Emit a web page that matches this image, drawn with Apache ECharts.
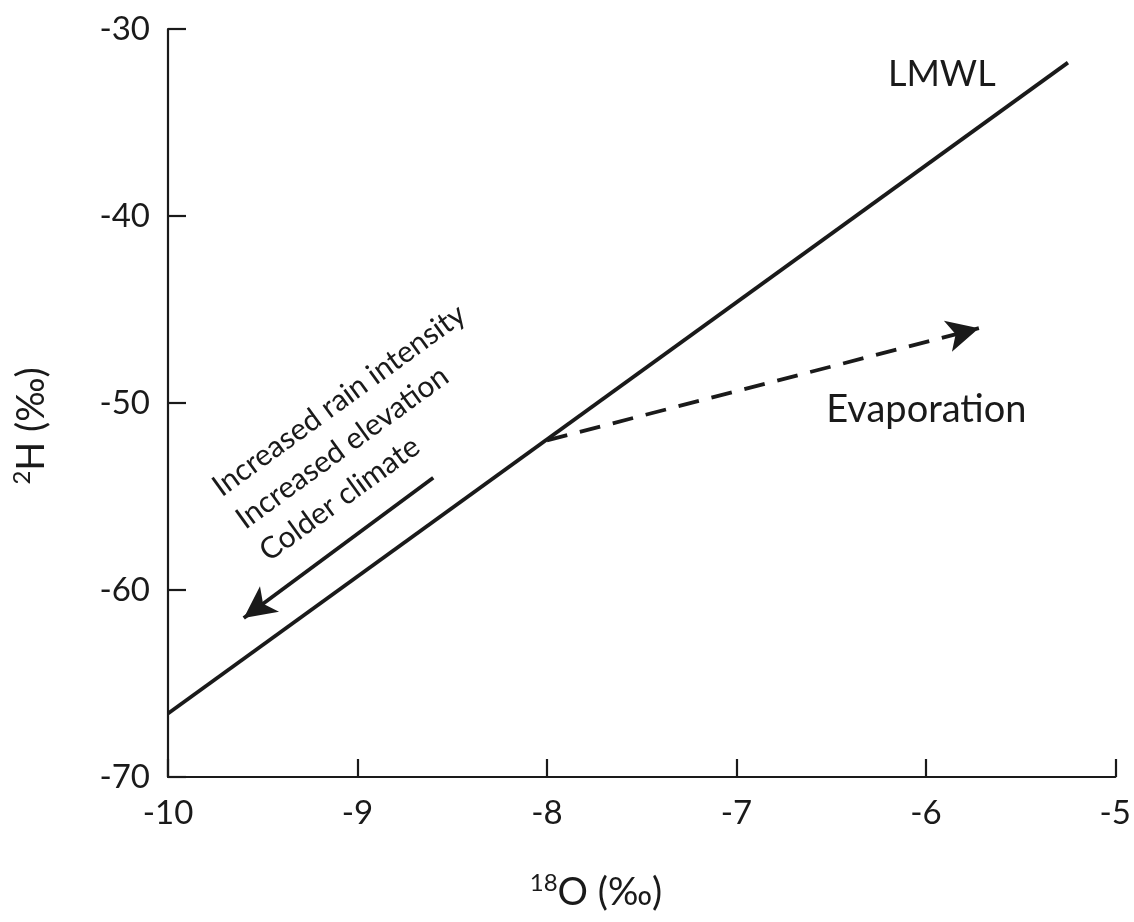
<!DOCTYPE html>
<html>
<head>
<meta charset="utf-8">
<script src="https://cdn.jsdelivr.net/npm/echarts@6/dist/echarts.min.js"></script>
<style>
  html, body { margin: 0; padding: 0; background: #ffffff; }
  #chart { width: 1134px; height: 922px; }
</style>
</head>
<body>
<div id="chart"></div>
<script>
// Axis ranges and ticks (per mil)
const xTicks = [-10, -9, -8, -7, -6, -5];
const yTicks = [-70, -60, -50, -40, -30];

// Local meteoric water line (δ18O, δ2H)
const lmwlX = [-10, -5.25];
const lmwlY = [-66.6, -31.8];

// Evaporation trend: start on the LMWL, arrow tip
const evapStart = [-8.0, -52.0];
const evapEnd = [-5.72, -46.0];

// Depletion trend arrow (start, tip)
const depletionStart = [-8.6, -54.0];
const depletionEnd = [-9.6, -61.5];

// Annotation labels and their anchor points in data space
const trendLines = ['Increased rain intensity', 'Increased elevation', 'Colder climate'];
const trendAnchor = [-9.70, -55.29];
const lmwlLabel = 'LMWL';
const lmwlLabelAt = [-6.2, -33.37];
const evapLabel = 'Evaporation';
const evapLabelAt = [-6.526, -51.39];

const FONT = 'Lato, "Open Sans", sans-serif';
const INK = '#1a1a1a';

const chart = echarts.init(document.getElementById('chart'), null, { renderer: 'canvas' });

const axisCommon = {
  type: 'value',
  axisLine: { show: true, lineStyle: { color: INK, width: 2.2 } },
  axisTick: { show: true, inside: true, length: 18, lineStyle: { color: INK, width: 2.2 } },
  splitLine: { show: false },
  axisLabel: { color: INK, fontFamily: FONT, fontSize: 33 }
};

chart.setOption({
  animation: false,
  backgroundColor: '#ffffff',
  grid: { left: 168, right: 16, top: 29, bottom: 145, containLabel: false },
  xAxis: Object.assign({}, axisCommon, {
    min: xTicks[0], max: xTicks[xTicks.length - 1], interval: 1,
    axisLabel: Object.assign({}, axisCommon.axisLabel, { margin: 20 })
  }),
  yAxis: Object.assign({}, axisCommon, {
    min: yTicks[0], max: yTicks[yTicks.length - 1], interval: 10,
    axisLabel: Object.assign({}, axisCommon.axisLabel, { margin: 18 })
  }),
  series: [{
    name: 'LMWL',
    type: 'line',
    data: lmwlX.map((x, i) => [x, lmwlY[i]]),
    symbol: 'none',
    lineStyle: { color: INK, width: 3.8 },
    silent: true,
    markLine: {
      silent: true,
      animation: false,
      symbol: ['none', 'arrow'],
      symbolSize: [24, 32],
      label: { show: false },
      emphasis: { disabled: true },
      data: [
        [
          { coord: evapStart, lineStyle: { color: INK, width: 3.8, type: [21, 13], curveness: 0.04 } },
          { coord: evapEnd }
        ],
        [
          { coord: depletionStart, lineStyle: { color: INK, width: 3.8, type: 'solid', curveness: 0 } },
          { coord: depletionEnd }
        ]
      ]
    }
  }]
});

// Text annotations placed from data coordinates
const px = p => chart.convertToPixel({ gridIndex: 0 }, p);
const angle = 36 * Math.PI / 180;
const perp = [Math.sin(angle), Math.cos(angle)];
const lineGap = 40;
const a0 = px(trendAnchor);

const graphics = trendLines.map((t, i) => ({
  type: 'text',
  x: a0[0] + perp[0] * lineGap * i,
  y: a0[1] + perp[1] * lineGap * i,
  rotation: angle,
  silent: true,
  style: { text: t, fill: INK, font: '30px ' + FONT, align: 'left', verticalAlign: 'bottom' }
}));

const lp = px(lmwlLabelAt);
graphics.push({
  type: 'text', x: lp[0], y: lp[1], silent: true,
  style: { text: lmwlLabel, fill: INK, font: '36px ' + FONT, align: 'left', verticalAlign: 'bottom' }
});
const ep = px(evapLabelAt);
graphics.push({
  type: 'text', x: ep[0], y: ep[1], silent: true,
  style: { text: evapLabel, fill: INK, font: '38px ' + FONT, align: 'left', verticalAlign: 'bottom' }
});

// Axis titles with superscript isotope mass numbers
const richTitle = {
  sup: { fontSize: 24, fontFamily: FONT, fill: INK, verticalAlign: 'top', lineHeight: 44 },
  main: { fontSize: 38, fontFamily: FONT, fill: INK, lineHeight: 44 }
};
graphics.push({
  type: 'text', x: 596, y: 893, silent: true,
  style: { text: '{sup|18}{main|O (‰)}', rich: richTitle, align: 'center', verticalAlign: 'middle' }
});
graphics.push({
  type: 'text', x: 32, y: 426, rotation: Math.PI / 2, silent: true,
  style: { text: '{sup|2}{main|H (‰)}', rich: richTitle, align: 'center', verticalAlign: 'middle' }
});

chart.setOption({ graphic: graphics });
</script>
</body>
</html>
